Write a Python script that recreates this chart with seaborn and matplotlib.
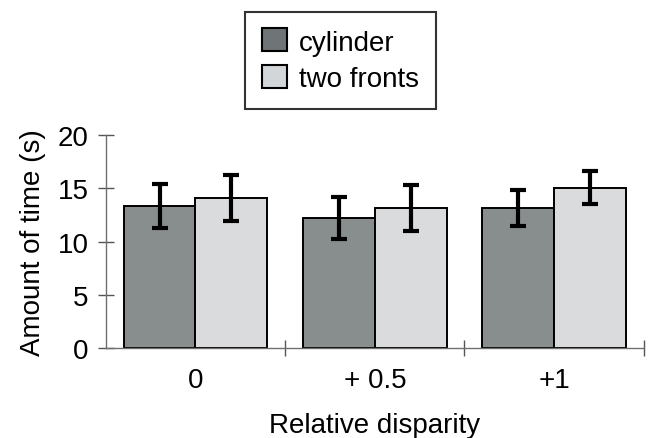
import matplotlib
matplotlib.use("Agg")
import matplotlib.pyplot as plt
import seaborn as sns
import pandas as pd
import numpy as np
from matplotlib.patches import Patch

categories = ["0", "+ 0.5", "+1"]
series = ["cylinder", "two fronts"]
cylinder = [13.35, 12.2, 13.15]
two_fronts = [14.1, 13.15, 15.05]
cylinder_err = [2.1, 2.0, 1.7]
two_fronts_err = [2.15, 2.2, 1.55]
yticks = [0, 5, 10, 15, 20]

sns.set_theme(style="white")
plt.rcParams['font.family'] = ['Liberation Sans', 'DejaVu Sans']
plt.rcParams['text.color'] = 'black'
plt.rcParams['axes.labelcolor'] = 'black'
plt.rcParams['xtick.color'] = 'black'
plt.rcParams['ytick.color'] = 'black'

FS = 20

df = pd.DataFrame({
    "disparity": categories * 2,
    "condition": [series[0]] * 3 + [series[1]] * 3,
    "time": cylinder + two_fronts,
})

fig = plt.figure(figsize=(6.57, 4.39), dpi=100)
ax = fig.add_axes([0.161, 0.205, 0.819, 0.485])

colors = ["#878d8f", "#d8dbde"]
sns.barplot(data=df, x="disparity", y="time", hue="condition", order=categories,
            hue_order=series, palette=colors, edgecolor="black", linewidth=1.4,
            width=0.8, errorbar=None, ax=ax, legend=False)

errs = cylinder_err + two_fronts_err
for p, e in zip(ax.patches[:6], errs):
    xc = p.get_x() + p.get_width() / 2
    ax.errorbar(xc, p.get_height(), yerr=e, fmt="none", ecolor="black",
                elinewidth=3, capsize=6, capthick=3, zorder=5)

ax.set_ylim(0, 20)
ax.set_xlim(-0.5, 2.5)
ax.set_yticks(yticks)
ax.set_yticklabels([str(t) for t in yticks], fontsize=FS)
ax.set_xticks(range(len(categories)))
ax.set_xticklabels(categories, fontsize=FS)
ax.set_xticks([0.5, 1.5, 2.5], minor=True)
ax.tick_params(axis="x", which="major", bottom=True, length=0, pad=14, labelcolor="black")
ax.tick_params(axis="x", which="minor", bottom=True, length=11, direction="inout", width=1, color="#555555")
ax.tick_params(axis="y", which="major", left=True, length=11, direction="inout", width=1, color="#555555", pad=7, labelcolor="black")

for s in ["top", "right"]:
    ax.spines[s].set_visible(False)
for s in ["left", "bottom"]:
    ax.spines[s].set_color("#707070")
    ax.spines[s].set_linewidth(1.0)

ax.set_xlabel("Relative disparity", fontsize=FS, labelpad=13, color="black")
ax.set_ylabel("Amount of time (s)", fontsize=FS, labelpad=8, color="black")

handles = [Patch(facecolor=c, edgecolor="black", linewidth=1.5, label=l)
           for c, l in zip(["#6f7477", "#d3d6d9"], series)]
leg = fig.legend(handles=handles, loc="upper center", bbox_to_anchor=(0.518, 0.971),
                 fontsize=FS, frameon=True, fancybox=False, handlelength=0.9,
                 handleheight=0.9, handletextpad=0.45, borderpad=0.6, labelspacing=0.35,
                 borderaxespad=0)
leg.get_frame().set_edgecolor("black")
leg.get_frame().set_linewidth(1.5)
for t in leg.get_texts():
    t.set_color("black")

fig.savefig("out.png", dpi=100)
